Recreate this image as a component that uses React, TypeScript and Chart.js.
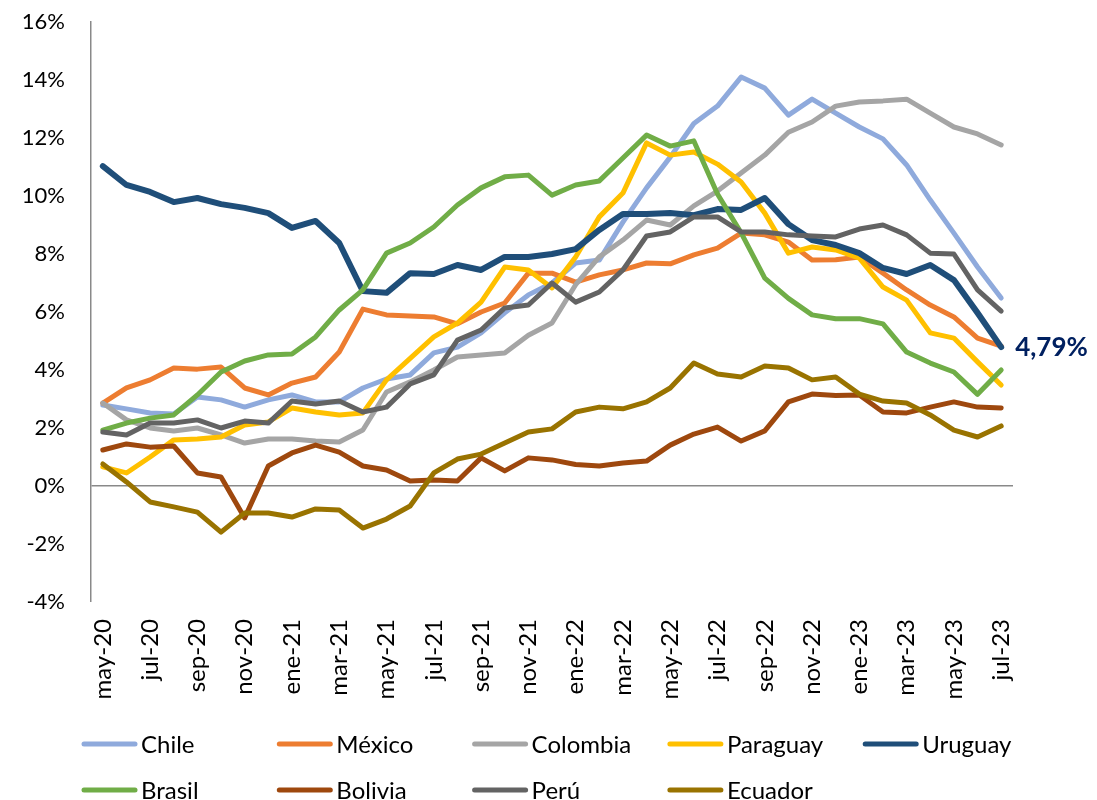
import React, { useEffect, useRef } from "react";
import { Chart, registerables } from "chart.js";

Chart.register(...registerables);

const FONT = "Lato, 'Open Sans', sans-serif";

const months = [
  "may-20", "jun-20", "jul-20", "ago-20", "sep-20", "oct-20", "nov-20", "dic-20",
  "ene-21", "feb-21", "mar-21", "abr-21", "may-21", "jun-21", "jul-21", "ago-21",
  "sep-21", "oct-21", "nov-21", "dic-21", "ene-22", "feb-22", "mar-22", "abr-22",
  "may-22", "jun-22", "jul-22", "ago-22", "sep-22", "oct-22", "nov-22", "dic-22",
  "ene-23", "feb-23", "mar-23", "abr-23", "may-23", "jun-23", "jul-23",
];

const chile = [
  2.79, 2.66, 2.52, 2.48, 3.07, 2.97, 2.72, 2.97, 3.14, 2.9, 2.9, 3.38, 3.69,
  3.83, 4.59, 4.79, 5.28, 5.97, 6.59, 7.0, 7.69, 7.79, 9.1, 10.28, 11.34, 12.5,
  13.1, 14.1, 13.72, 12.79, 13.34, 12.86, 12.38, 11.97, 11.07, 9.86, 8.72, 7.55, 6.48,
];
const mexico = [
  2.86, 3.38, 3.66, 4.07, 4.03, 4.1, 3.38, 3.14, 3.55, 3.76, 4.62, 6.1, 5.9,
  5.86, 5.83, 5.59, 6.0, 6.31, 7.34, 7.34, 7.03, 7.28, 7.45, 7.69, 7.66, 7.97,
  8.2, 8.72, 8.66, 8.41, 7.79, 7.8, 7.9, 7.34, 6.76, 6.24, 5.83, 5.1, 4.82,
];
const colombia = [
  2.86, 2.28, 2.0, 1.9, 2.0, 1.76, 1.48, 1.62, 1.62, 1.55, 1.52, 1.93, 3.24,
  3.59, 4.0, 4.45, 4.52, 4.59, 5.2, 5.62, 6.94, 7.9, 8.48, 9.17, 9.0, 9.66,
  10.17, 10.79, 11.41, 12.2, 12.55, 13.1, 13.24, 13.28, 13.34, 12.86, 12.38, 12.14, 11.76,
];
const paraguay = [
  0.66, 0.45, 1.0, 1.59, 1.62, 1.69, 2.1, 2.21, 2.69, 2.55, 2.45, 2.52, 3.66,
  4.4, 5.14, 5.62, 6.34, 7.55, 7.45, 6.83, 7.9, 9.28, 10.1, 11.83, 11.41, 11.52,
  11.1, 10.48, 9.41, 8.03, 8.24, 8.14, 7.86, 6.86, 6.41, 5.28, 5.1, 4.28, 3.48,
];
const uruguay = [
  11.03, 10.38, 10.14, 9.79, 9.93, 9.72, 9.59, 9.41, 8.9, 9.14, 8.38, 6.72, 6.66,
  7.34, 7.31, 7.62, 7.45, 7.9, 7.9, 8.0, 8.17, 8.83, 9.38, 9.38, 9.41, 9.34,
  9.55, 9.52, 9.93, 9.03, 8.48, 8.31, 8.03, 7.52, 7.31, 7.62, 7.1, 5.97, 4.79,
];
const brasil = [
  1.93, 2.17, 2.34, 2.45, 3.14, 3.93, 4.31, 4.52, 4.55, 5.14, 6.07, 6.76, 8.03,
  8.38, 8.93, 9.69, 10.28, 10.66, 10.72, 10.03, 10.38, 10.52, 11.31, 12.1, 11.72, 11.9,
  10.07, 8.73, 7.17, 6.47, 5.9, 5.77, 5.77, 5.59, 4.62, 4.24, 3.93, 3.16, 4.0,
];
const bolivia = [
  1.24, 1.45, 1.34, 1.38, 0.45, 0.31, -1.1, 0.69, 1.14, 1.41, 1.17, 0.69, 0.55,
  0.17, 0.21, 0.17, 0.97, 0.52, 0.97, 0.9, 0.74, 0.69, 0.79, 0.86, 1.41, 1.79,
  2.03, 1.55, 1.9, 2.9, 3.17, 3.12, 3.14, 2.55, 2.52, 2.72, 2.9, 2.72, 2.69,
];
const peru = [
  1.86, 1.76, 2.17, 2.17, 2.28, 2.0, 2.24, 2.17, 2.93, 2.83, 2.93, 2.55, 2.72,
  3.52, 3.83, 5.03, 5.38, 6.14, 6.24, 7.0, 6.34, 6.69, 7.45, 8.62, 8.76, 9.28,
  9.28, 8.76, 8.76, 8.66, 8.62, 8.59, 8.86, 9.0, 8.66, 8.03, 8.0, 6.76, 6.03,
];
const ecuador = [
  0.76, 0.14, -0.55, -0.72, -0.9, -1.59, -0.93, -0.93, -1.07, -0.79, -0.83, -1.45, -1.14,
  -0.69, 0.45, 0.93, 1.1, 1.48, 1.86, 1.97, 2.55, 2.72, 2.66, 2.9, 3.38, 4.24,
  3.86, 3.76, 4.14, 4.07, 3.66, 3.76, 3.17, 2.93, 2.86, 2.45, 1.93, 1.69, 2.07,
];

const seriesNames = ["Chile", "México", "Colombia", "Paraguay", "Uruguay", "Brasil", "Bolivia", "Perú", "Ecuador"];
const seriesColors = ["#8FAADC", "#ED7D31", "#A5A5A5", "#FFC000", "#1F4E79", "#70AD47", "#9E480E", "#636363", "#997300"];
const seriesData = [chile, mexico, colombia, paraguay, uruguay, brasil, bolivia, peru, ecuador];
const seriesWidths = [5, 5, 5, 5, 6, 5, 5, 5, 5];

const yTicks = [-4, -2, 0, 2, 4, 6, 8, 10, 12, 14, 16];
const highlightSeries = "Uruguay";

const gridLegend = {
  id: "gridLegend",
  afterDraw(chart: any) {
    const ctx = chart.ctx;
    ctx.save();
    chart.data.datasets.forEach((ds: any, i: number) => {
      const row = i < 5 ? 0 : 1;
      const col = i < 5 ? i : i - 5;
      const x = 82 + col * 195.3;
      const y = row === 0 ? 744 : 790;
      ctx.strokeStyle = ds.borderColor;
      ctx.lineWidth = 5;
      ctx.lineCap = "round";
      ctx.beginPath();
      ctx.moveTo(x + 2, y);
      ctx.lineTo(x + 53, y);
      ctx.stroke();
      ctx.fillStyle = "#000000";
      ctx.font = `24px ${FONT}`;
      ctx.textAlign = "left";
      ctx.textBaseline = "middle";
      ctx.fillText(ds.label, x + 59, y + 1);
    });
    ctx.restore();
  },
};

const endLabel = {
  id: "endLabel",
  afterDatasetsDraw(chart: any) {
    const idx = chart.data.datasets.findIndex((d: any) => d.label === highlightSeries);
    if (idx < 0) return;
    const meta = chart.getDatasetMeta(idx);
    const pts = meta.data;
    const last = pts[pts.length - 1];
    const data = chart.data.datasets[idx].data;
    const v = data[data.length - 1];
    const ctx = chart.ctx;
    ctx.save();
    ctx.fillStyle = "#002060";
    ctx.font = `bold 26px ${FONT}`;
    ctx.textAlign = "left";
    ctx.textBaseline = "middle";
    ctx.fillText(v.toFixed(2).replace(".", ",") + "%", last.x + 14, last.y + 1);
    ctx.restore();
  },
};

export default function App() {
  const ref = useRef<HTMLCanvasElement | null>(null);

  useEffect(() => {
    if (!ref.current) return;
    const chart = new Chart(ref.current, {
      type: "line",
      data: {
        labels: months,
        datasets: seriesNames.map((name, i) => ({
          label: name,
          data: seriesData[i],
          borderColor: seriesColors[i],
          backgroundColor: seriesColors[i],
          borderWidth: seriesWidths[i],
          pointRadius: 0,
          pointHoverRadius: 0,
          tension: 0,
          fill: false,
          borderJoinStyle: "round" as const,
          borderCapStyle: "round" as const,
          order: seriesNames.length - i,
        })),
      },
      options: {
        animation: false,
        responsive: false,
        maintainAspectRatio: false,
        layout: { padding: { top: 22, right: 84, bottom: 0, left: 0 } },
        plugins: {
          legend: { display: false },
          tooltip: { enabled: false },
        },
        scales: {
          x: {
            type: "category",
            offset: true,
            grid: { display: false, drawTicks: false },
            border: { display: false },
            afterFit: (scale: any) => {
              scale.height = 198;
              scale.paddingLeft = 0;
              scale.paddingRight = 0;
            },
            ticks: {
              autoSkip: false,
              minRotation: 90,
              maxRotation: 90,
              padding: 17,
              color: "#000000",
              font: { family: FONT, size: 24 },
              callback: (_v: any, i: number) => (i % 2 === 0 ? months[i] : ""),
            },
          },
          y: {
            min: -4,
            max: 16,
            afterBuildTicks: (scale: any) => {
              scale.ticks = yTicks.map((v) => ({ value: v }));
            },
            afterFit: (scale: any) => {
              scale.width = 91;
              scale.paddingTop = 0;
              scale.paddingBottom = 0;
            },
            grid: {
              drawTicks: false,
              color: (c: any) => (c.tick && c.tick.value === 0 ? "#898989" : "rgba(0,0,0,0)"),
              lineWidth: (c: any) => (c.tick && c.tick.value === 0 ? 1.5 : 0),
            },
            border: { display: true, color: "#898989", width: 1.5 },
            ticks: {
              padding: 26,
              color: "#000000",
              font: { family: FONT, size: 22 },
              callback: (v: any) => `${v}%`,
            },
          },
        },
      },
      plugins: [gridLegend, endLabel],
    });
    return () => chart.destroy();
  }, []);

  return (
    <div style={{ position: "fixed", left: 0, top: 0, width: 1097, height: 800, background: "#ffffff" }}>
      <canvas ref={ref} width={1097} height={800} style={{ width: 1097, height: 800 }} />
    </div>
  );
}
